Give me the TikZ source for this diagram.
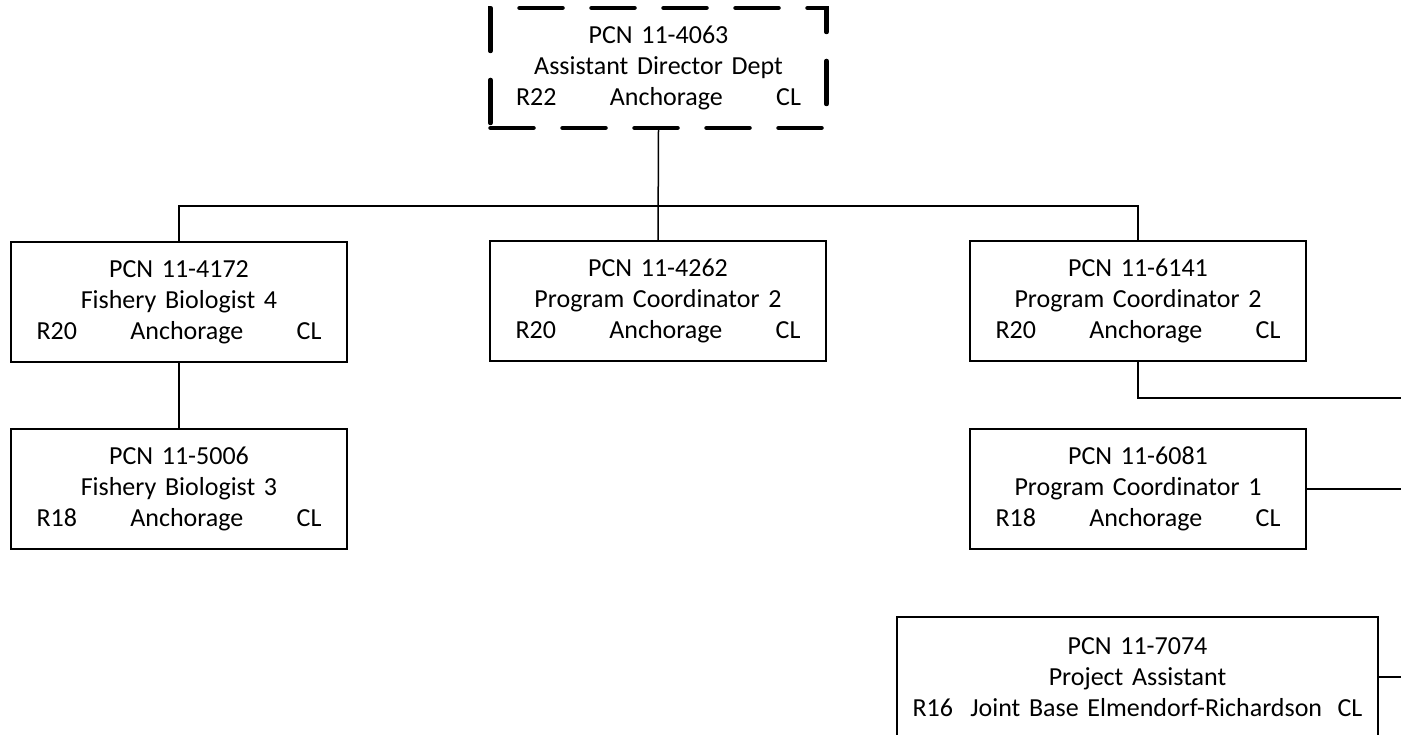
\documentclass[tikz,border=0pt]{standalone}
\usepackage{fontspec}
\setmainfont{Carlito}
\usetikzlibrary{calc}

\begin{document}
\begin{tikzpicture}[x=1pt,y=-1pt,
  posbox/.style={draw,line width=1.5pt,minimum width=336pt,minimum height=120pt,
    text width=285pt,align=center,inner sep=0pt,font=\fontsize{26}{31}\selectfont},
  headbox/.style={posbox,line width=4.5pt,line cap=round,dash pattern=on 43pt off 29pt},
  link/.style={line width=1.5pt}]
\useasboundingbox (0,0) rectangle (1401,735);
\node[headbox] (p4063) at (658.5,68) {PCN 11-4063\\Assistant Director Dept\\R22\hfill Anchorage\hfill CL};
\node[posbox] (p4172) at (179,302) {PCN 11-4172\\Fishery Biologist 4\\R20\hfill Anchorage\hfill CL};
\node[posbox] (p4262) at (658,301) {PCN 11-4262\\Program Coordinator 2\\R20\hfill Anchorage\hfill CL};
\node[posbox] (p6141) at (1138,301) {PCN 11-6141\\Program Coordinator 2\\R20\hfill Anchorage\hfill CL};
\node[posbox] (p5006) at (179,489) {PCN 11-5006\\Fishery Biologist 3\\R18\hfill Anchorage\hfill CL};
\node[posbox] (p6081) at (1138,489) {PCN 11-6081\\Program Coordinator 1\\R18\hfill Anchorage\hfill CL};
\node[posbox,minimum width=481pt,text width=450pt] (p7074) at (1137.5,677) {PCN 11-7074\\Project Assistant\\R16\ \ Joint Base Elmendorf-Richardson\hfill CL};
% lines
\coordinate (bus) at (658,206);
\coordinate (edge1) at (1401,398);
\coordinate (edge2) at (1401,489);
\coordinate (edge3) at (1401,677);
\draw[link] (p4063.south) -- (p4262.north);
\draw[link] (p4172.north) |- (bus) -| (p6141.north);
\draw[link] (p4172.south) -- (p5006.north);
\draw[link] (p6141.south) |- (edge1);
\draw[link] (p6081.east) -- (edge2);
\draw[link] (p7074.east) -- (edge3);
\end{tikzpicture}
\end{document}
